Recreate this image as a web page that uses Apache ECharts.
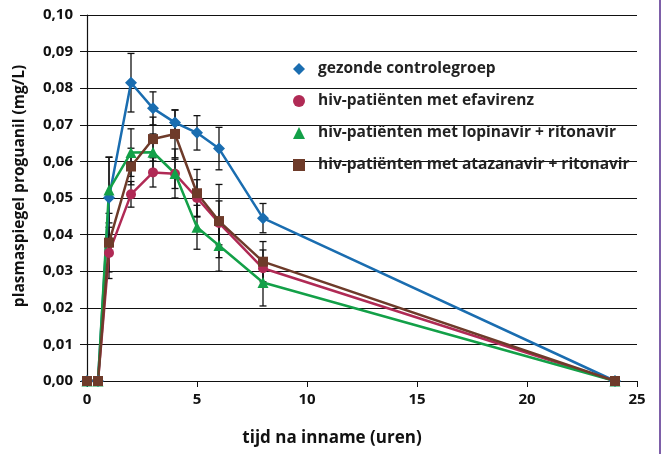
<!DOCTYPE html>
<html>
<head>
<meta charset="utf-8">
<script src="https://cdn.jsdelivr.net/npm/echarts@6/dist/echarts.min.js"></script>
<style>
  html, body { margin: 0; padding: 0; background: #fff; }
  #chart { width: 663px; height: 454px; }
</style>
</head>
<body>
<div id="chart"></div>
<script>
// tijd (uren) en plasmaspiegel proguanil (mg/L)
const hours = [0, 0.5, 1, 2, 3, 4, 5, 6, 8, 24];

const healthy = [0, 0, 0.0501, 0.0815, 0.0745, 0.0706, 0.0678, 0.0635, 0.0445, 0];
const healthyErr = [0, 0, 0.011, 0.008, 0.0045, 0.0035, 0.0047, 0.0058, 0.004, 0];

const efavirenz = [0, 0, 0.035, 0.051, 0.057, 0.0566, 0.050, 0.0432, 0.0308, 0];
const efavirenzErr = [0, 0, 0.007, 0.0035, 0.004, 0.004, 0.005, 0.006, 0.005, 0];

const lopinavir = [0, 0, 0.0522, 0.0624, 0.0625, 0.0567, 0.042, 0.037, 0.0269, 0];
const lopinavirErr = [0, 0, 0.009, 0.0065, 0.005, 0.0067, 0.006, 0.007, 0.0064, 0];

const atazanavir = [0, 0, 0.0378, 0.0586, 0.0661, 0.0675, 0.0513, 0.0437, 0.0326, 0];
const atazanavirErr = [0, 0, 0.008, 0.005, 0.006, 0.0065, 0.0065, 0.01, 0.0055, 0];

const groups = [
  { name: 'gezonde controlegroep', values: healthy, err: healthyErr, color: '#1a6db0', symbol: 'diamond', size: 12 },
  { name: 'hiv-patiënten met efavirenz', values: efavirenz, err: efavirenzErr, color: '#b02a55', symbol: 'circle', size: 10 },
  { name: 'hiv-patiënten met lopinavir + ritonavir', values: lopinavir, err: lopinavirErr, color: '#13a048', symbol: 'triangle', size: 11 },
  { name: 'hiv-patiënten met atazanavir + ritonavir', values: atazanavir, err: atazanavirErr, color: '#6e3b2a', symbol: 'rect', size: 10 }
];

const font = '"Open Sans", "Noto Sans", sans-serif';

function errorBars(g) {
  const data = [];
  hours.forEach((h, i) => {
    if (g.err[i] > 0) data.push([h, g.values[i] - g.err[i], g.values[i] + g.err[i]]);
  });
  return {
    type: 'custom',
    name: g.name + ' err',
    z: 1,
    silent: true,
    data: data,
    encode: { x: 0, y: [1, 2] },
    renderItem: function (params, api) {
      const lo = api.coord([api.value(0), api.value(1)]);
      const hi = api.coord([api.value(0), api.value(2)]);
      const w = 3.5;
      const style = { stroke: '#111', lineWidth: 1.3 };
      return {
        type: 'group',
        children: [
          { type: 'line', shape: { x1: lo[0], y1: lo[1], x2: hi[0], y2: hi[1] }, style: style },
          { type: 'line', shape: { x1: lo[0] - w, y1: lo[1], x2: lo[0] + w, y2: lo[1] }, style: style },
          { type: 'line', shape: { x1: hi[0] - w, y1: hi[1], x2: hi[0] + w, y2: hi[1] }, style: style }
        ]
      };
    }
  };
}

const chart = echarts.init(document.getElementById('chart'));

const series = [];
groups.forEach(g => series.push(errorBars(g)));
groups.forEach(g => {
  series.push({
    type: 'line',
    name: g.name,
    z: 3,
    data: hours.map((h, i) => [h, g.values[i]]),
    symbol: g.symbol,
    symbolSize: g.size,
    showAllSymbol: true,
    lineStyle: { color: g.color, width: 2.5 },
    itemStyle: { color: g.color },
    emphasis: { disabled: true }
  });
});

chart.setOption({
  animation: false,
  backgroundColor: '#fff',
  grid: { left: 87, right: 26, top: 15, bottom: 73 },
  xAxis: {
    type: 'value',
    min: 0,
    max: 25,
    interval: 5,
    axisLine: { lineStyle: { color: '#111', width: 1.2 } },
    axisTick: { length: 6, lineStyle: { color: '#111' } },
    axisLabel: { color: '#111', fontFamily: font, fontWeight: 'bold', fontSize: 15, margin: 11 },
    splitLine: { show: false }
  },
  yAxis: {
    type: 'value',
    min: 0,
    max: 0.1,
    interval: 0.01,
    axisLine: { show: true, lineStyle: { color: '#111', width: 1.2 } },
    axisTick: { show: true, length: 7, lineStyle: { color: '#111' } },
    axisLabel: {
      color: '#111', fontFamily: font, fontWeight: 'bold', fontSize: 15, margin: 14,
      formatter: v => v.toFixed(2).replace('.', ',')
    },
    splitLine: { show: true, lineStyle: { color: '#111', width: 1.2 } }
  },
  legend: {
    orient: 'vertical',
    left: 288,
    top: 56,
    itemGap: 16,
    itemWidth: 12,
    itemHeight: 12,
    textStyle: { color: '#222', fontFamily: font, fontWeight: 'bold', fontSize: 15.5, padding: [0, 0, 0, 8] },
    data: groups.map(g => ({ name: g.name, icon: g.symbol }))
  },
  graphic: [
    { type: 'rect', z: 0, zlevel: 0, shape: { x: 272, y: 24, width: 385, height: 156 }, style: { fill: '#fff' } },
    { type: 'rect', shape: { x: 659, y: 0, width: 2, height: 454 }, style: { fill: '#7d5fa8' } },
    {
      type: 'text', x: 20, y: 186, rotation: Math.PI / 2,
      style: { text: 'plasmaspiegel proguanil (mg/L)', fill: '#111', font: 'bold 15.5px ' + font, align: 'center', verticalAlign: 'middle' }
    },
    {
      type: 'text', x: 332, y: 438,
      style: { text: 'tijd na inname (uren)', fill: '#111', font: 'bold 17px ' + font, align: 'center', verticalAlign: 'middle' }
    }
  ],
  series: series
});
</script>
</body>
</html>
